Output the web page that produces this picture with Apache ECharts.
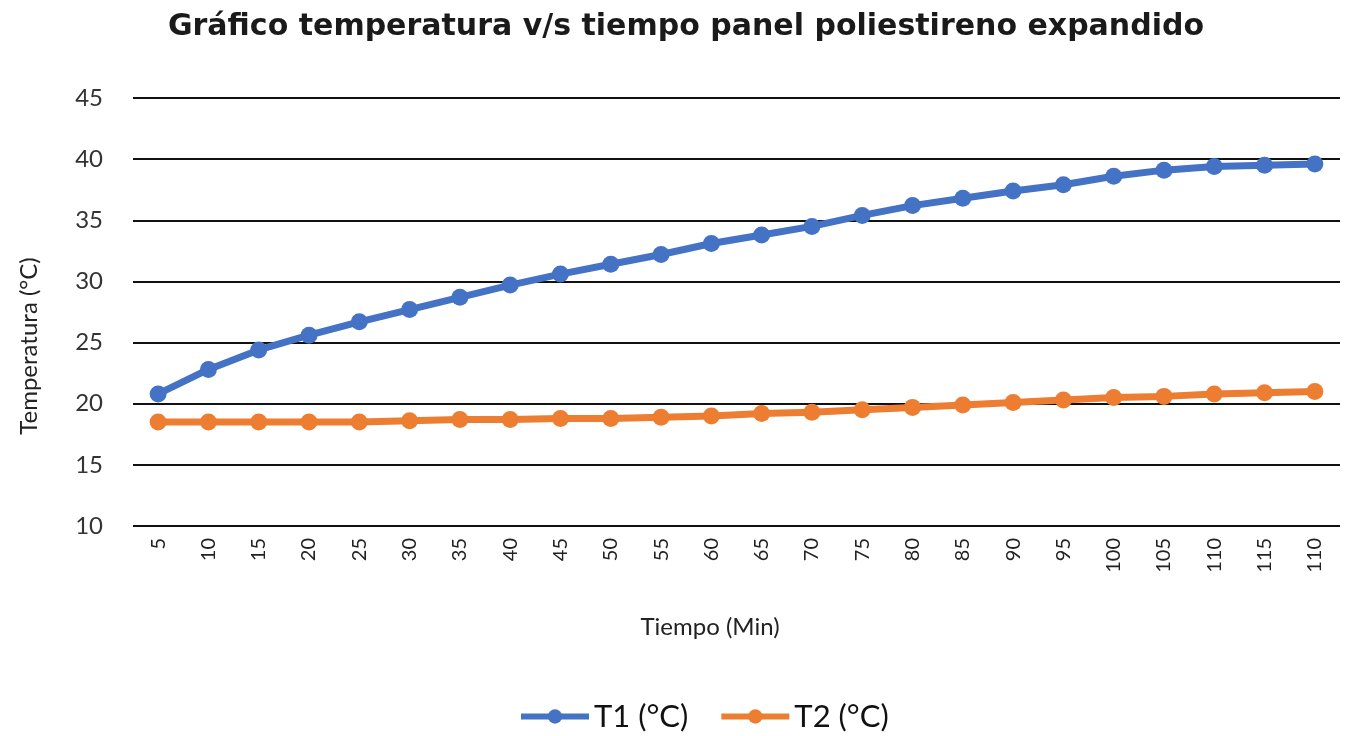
<!DOCTYPE html>
<html><head><meta charset="utf-8">
<script src="https://cdn.jsdelivr.net/npm/echarts@6/dist/echarts.min.js"></script>
<style>html,body{margin:0;padding:0;background:#fff}#c{width:1349px;height:736px}</style>
</head><body><div id="c"></div>
<script>
const categories = ['5','10','15','20','25','30','35','40','45','50','55','60','65','70','75','80','85','90','95','100','105','110','115','110'];
const t1 = [20.8,22.8,24.4,25.6,26.7,27.7,28.7,29.7,30.6,31.4,32.2,33.1,33.8,34.5,35.4,36.2,36.8,37.4,37.9,38.6,39.1,39.4,39.5,39.6];
const t2 = [18.5,18.5,18.5,18.5,18.5,18.6,18.7,18.7,18.8,18.8,18.9,19.0,19.2,19.3,19.5,19.7,19.9,20.1,20.3,20.5,20.6,20.8,20.9,21.0];
const yTicks = [10,15,20,25,30,35,40,45];
const font = 'Lato, "Open Sans", sans-serif';
const chart = echarts.init(document.getElementById('c'));
chart.setOption({
  animation:false,
  title:{text:'Gráfico temperatura v/s tiempo panel poliestireno expandido',left:681,top:7,textAlign:'center',
    textStyle:{fontFamily:'"DejaVu Sans", sans-serif',fontWeight:'bold',fontSize:30,color:'#1a1a1a'}},
  grid:{left:133,right:9,top:98,bottom:210},
  legend:{bottom:-1,left:513,itemWidth:68,itemHeight:18,itemGap:30,
    lineStyle:{width:6},
    textStyle:{fontFamily:font,fontSize:31,color:'#111'},
    data:['T1 (°C)','T2 (°C)']},
  graphic:[
    {type:'text',x:29,y:346,rotation:Math.PI/2,
      style:{text:'Temperatura (°C)',align:'center',verticalAlign:'middle',fontFamily:font,fontSize:24,fill:'#222'}},
    {type:'text',x:710,y:627,
      style:{text:'Tiempo (Min)',align:'center',verticalAlign:'middle',fontFamily:font,fontSize:24,fill:'#222'}}
  ],
  xAxis:{type:'category',data:categories,boundaryGap:true,
    axisLine:{show:false},axisTick:{show:false},
    axisLabel:{rotate:90,fontFamily:font,fontSize:20,color:'#222',margin:12,interval:0}},
  yAxis:{type:'value',min:10,max:45,interval:5,
    axisLine:{show:false},axisTick:{show:false},
    axisLabel:{fontFamily:font,fontSize:24,color:'#333',margin:30,
      formatter:v=>yTicks.includes(v)?String(v):''},
    splitLine:{lineStyle:{color:'#111',width:2}}},
  series:[
    {name:'T1 (°C)',type:'line',data:t1,symbol:'circle',symbolSize:17,
      lineStyle:{width:7,color:'#4472C4'},itemStyle:{color:'#4472C4'}},
    {name:'T2 (°C)',type:'line',data:t2,symbol:'circle',symbolSize:17,
      lineStyle:{width:7,color:'#ED7D31'},itemStyle:{color:'#ED7D31'}}
  ]
});
</script></body></html>
